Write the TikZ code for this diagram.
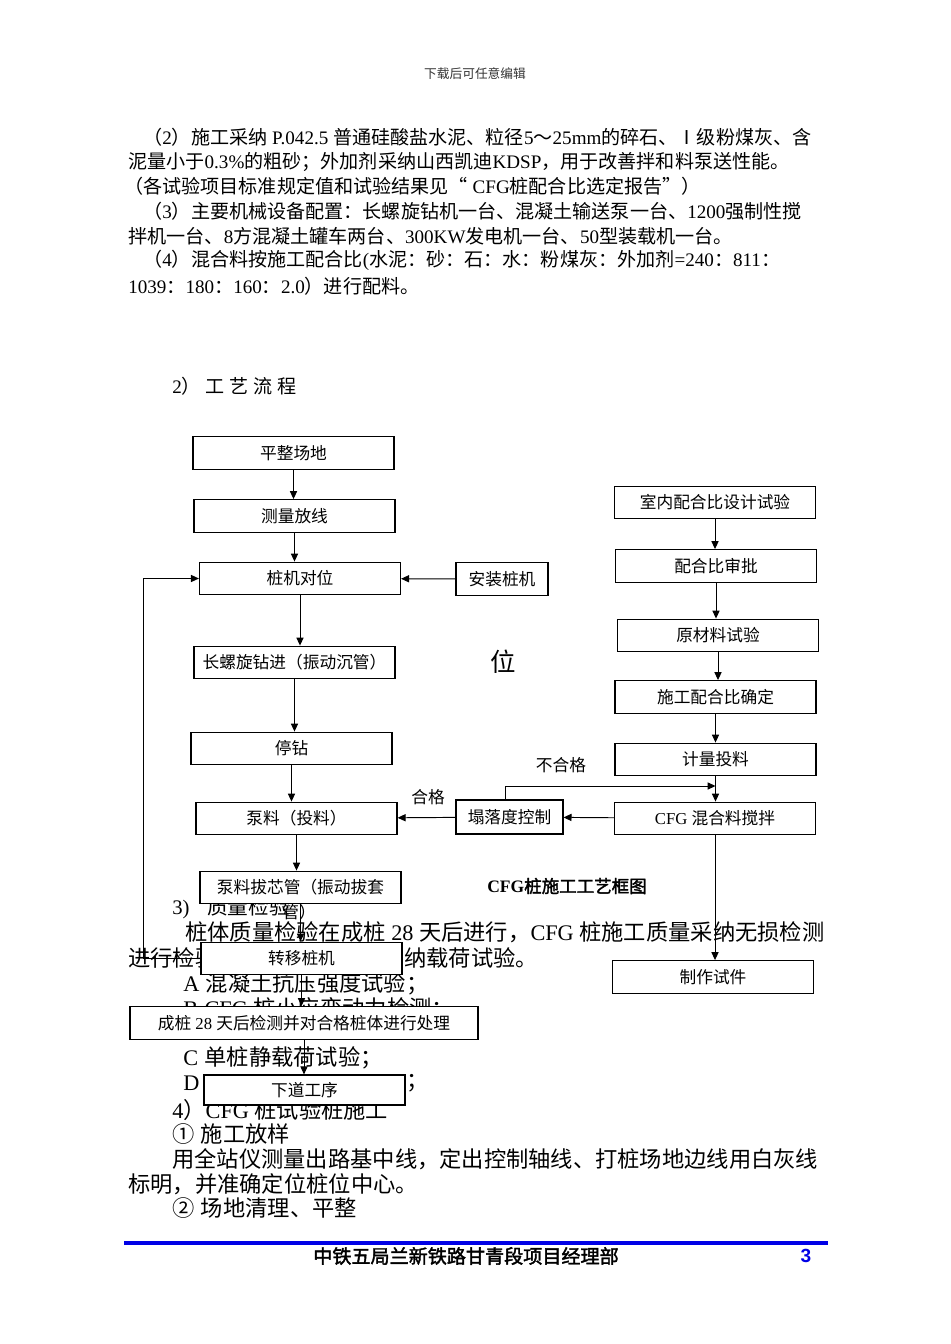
\documentclass[tikz,border=0pt]{standalone}
\usepackage{fontspec}
\setmainfont{Liberation Serif}
\setsansfont{Liberation Sans}
\newfontfamily\cjkfont{Noto Sans CJK SC}[BoldFont=Noto Sans CJK SC,BoldFeatures={FakeBold=2}]
\usetikzlibrary{arrows.meta}
% switch to the CJK font for CJK characters
\XeTeXinterchartokenstate=1
\newXeTeXintercharclass\cjkcls
\newcount\cjkcnt
\cjkcnt="2E80 \loop\XeTeXcharclass\cjkcnt=\cjkcls\advance\cjkcnt by 1 \ifnum\cjkcnt<"A000 \repeat
\cjkcnt="FF00 \loop\XeTeXcharclass\cjkcnt=\cjkcls\advance\cjkcnt by 1 \ifnum\cjkcnt<"FFF0 \repeat
\cjkcnt="2150 \loop\XeTeXcharclass\cjkcnt=\cjkcls\advance\cjkcnt by 1 \ifnum\cjkcnt<"2190 \repeat
\cjkcnt="2460 \loop\XeTeXcharclass\cjkcnt=\cjkcls\advance\cjkcnt by 1 \ifnum\cjkcnt<"2500 \repeat
\XeTeXcharclass"201C=\cjkcls
\XeTeXcharclass"201D=\cjkcls
\XeTeXinterchartoks 0 \cjkcls = {\cjkfont}
\XeTeXinterchartoks 4095 \cjkcls = {\cjkfont}
\XeTeXinterchartoks \cjkcls 0 = {\rmfamily}
\XeTeXinterchartoks \cjkcls 4095 = {\rmfamily}
\definecolor{footblue}{RGB}{0,0,230}
\begin{document}
\begin{tikzpicture}[x=0.0221cm,y=-0.0221cm,
  box/.style={draw,fill=white,line width=0.8pt,inner sep=0pt,minimum width=4.44cm,
    minimum height=0.72cm,font=\fontsize{10.5}{12}\selectfont},
  arr/.style={line width=0.6pt,-{Triangle[length=5pt,width=4.5pt]}},
  body/.style={anchor=west,inner sep=0pt,font=\fontsize{12}{14}\selectfont},
  big/.style={anchor=west,inner sep=0pt,font=\fontsize{14}{16}\selectfont},
  lab/.style={inner sep=0pt,font=\fontsize{10.5}{12}\selectfont}]

\fill[white] (0,0) rectangle (950,1344);
\useasboundingbox (0,0) rectangle (950,1344);

   \node[inner sep=0pt,font=\fontsize{8}{9}\selectfont,text=black!80] (hd) at (475,74) {下载后可任意编辑};

   % text above the chart
   \node[body] (t1) at (143,137) {（2）施工采纳 P.042.5 普通硅酸盐水泥、粒径5～25mm的碎石、Ⅰ级粉煤灰、含};
   \node[body] (t2) at (128,162) {泥量小于0.3\%的粗砂；外加剂采纳山西凯迪KDSP，用于改善拌和料泵送性能。};
   \node[body] (t3) at (124,186) {（各试验项目标准规定值和试验结果见“ CFG桩配合比选定报告”）};
   \node[body] (t4) at (143,211) {（3）主要机械设备配置：长螺旋钻机一台、混凝土输送泵一台、1200强制性搅};
   \node[body] (t5) at (128,236) {拌机一台、8方混凝土罐车两台、300KW发电机一台、50型装载机一台。};
   \node[body] (t6) at (143,260) {（4）混合料按施工配合比(水泥：砂：石：水：粉煤灰：外加剂=240：811：};
   \node[body] (t7) at (128,286) {1039：180：160：2.0）进行配料。};
   \node[body] (h2) at (172,386) {2）\hspace{3pt}工\hspace{3pt}艺\hspace{3pt}流\hspace{3pt}程};

   % text under the chart
   \node[big,font=\fontsize{13}{15}\selectfont] (q0) at (172,908) {3)\hspace{11pt}质量检验};
   \node[big] (q1) at (185,932) {桩体质量检验在成桩 28 天后进行，CFG 桩施工质量采纳无损检测};
   \node[big] (q2) at (128,958) {进行检验};
   \node[big] (q3) at (404,958) {纳载荷试验。};
   \node[big] (qa) at (183,984) {A\hspace{4pt}混凝土抗压强度试验；};
   \node[big] (qb) at (183,1009) {B\hspace{4pt}CFG 桩小应变动力检测；};
   \node[big] (qc) at (183,1058) {C\hspace{4pt}单桩静载荷试验；};
   \node[big] (qd) at (183,1083) {D};
   \node[big] (qe) at (406,1083) {；};
   \node[big] (q4) at (172,1110) {4）CFG 桩试验桩施工};
   \node[big] (q5) at (172,1134) {①\hspace{4pt}施工放样};
   \node[big] (q6) at (172,1159) {用全站仪测量出路基中线，定出控制轴线、打桩场地边线用白灰线};
   \node[big] (q7) at (128,1184) {标明，并准确定位桩位中心。};
   \node[big] (q8) at (172,1208) {②\hspace{4pt}场地清理、平整};

   % left column
   \node[box] at (293.5,453)  (A) {平整场地};
   \node[box] at (294.5,516)  (B) {测量放线};
   \node[box] at (300,578.5)  (C) {桩机对位};
   \node[box,minimum width=2.03cm] at (502,579)  (K) {安装桩机};
   \node[box] at (294.5,662.5)  (D) {长螺旋钻进（振动沉管）};
   \node[box] at (291.5,748.5)  (E) {停钻};
   \node[box] at (296.5,818.5)  (F) {泵料（投料）};
   \node[box] at (300.5,887.5)  (G) {泵料拔芯管（振动拔套};
   \node[box] at (301.5,958.5)  (H) {转移桩机};
   \node[box,minimum width=7.69cm] at (304,1023)  (I) {成桩 28 天后检测并对合格桩体进行处理};
   \node[box,minimum height=0.66cm] at (304.5,1090)  (J) {下道工序};
   \node[lab] at (299,912)  (G2) {管）};

   % right column
   \node[box] at (715,502.5)  (P) {室内配合比设计试验};
   \node[box] at (716,566)  (Q) {配合比审批};
   \node[box] at (718,635.5)  (R) {原材料试验};
   \node[box] at (715.5,697)  (S) {施工配合比确定};
   \node[box] at (715.5,759.5)  (T) {计量投料};
   \node[box] at (715,818.5)  (U) {CFG 混合料搅拌};
   \node[box,minimum width=2.36cm,minimum height=0.75cm] at (509.5,817)  (V) {塌落度控制};
   \node[box] at (713,977)  (W) {制作试件};

   \node[lab,font=\fontsize{16}{18}\selectfont] at (503,662)  (wei) {位};
   \node[lab,font=\fontsize{11}{13}\selectfont\bfseries] at (567,886)  (ttl) {CFG桩施工工艺框图};
   \node[lab] at (428,797)  (ok) {合格};
   \node[lab] at (561,765)  (nok) {不合格};

   \draw[arr] (A.south) -- (A.south |- B.north);
   \draw[arr] (B.south) -- (B.south |- C.north);
   \draw[arr] (C.south) -- (C.south |- D.north);
   \draw[arr] (D.south) -- (D.south |- E.north);
   \draw[arr] (E.south) -- (E.south |- F.north);
   \draw[arr] (F.south) -- (F.south |- G.north);
   \draw[arr] (G.south) -- (G.south |- H.north);
   \draw[arr] (H.south) -- (H.south |- I.north);
   \draw[arr] (I.south) -- (I.south |- J.north);
   \draw[arr] (K) -- (C);

   \coordinate (fb) at (143,958.5);
   \draw[arr] (H.west) -- (fb) |- (C.west);

   \draw[arr] (P.south) -- (P.south |- Q.north);
   \draw[arr] (Q.south) -- (Q.south |- R.north);
   \draw[arr] (R.south) -- (R.south |- S.north);
   \draw[arr] (S.south) -- (S.south |- T.north);
   \draw[arr] (T.south) -- (T.south |- U.north);
   \draw[arr] (U.south) -- (U.south |- W.north);
   \draw[arr] (U) -- (V);
   \draw[arr] (V) -- (F);

   \coordinate (nb) at (505,786);
   \draw[arr] (V.north -| nb) -- (nb) -- (nb -| T.south);

   % footer
   \draw[footblue,line width=2pt] (124,1243) -- (828,1243);
   \node[lab,font=\fontsize{12}{14}\selectfont\bfseries] at (466,1256)  (ft) {中铁五局兰新铁路甘青段项目经理部};
   \node[lab,font=\fontsize{12}{14}\selectfont\sffamily\bfseries,text=footblue] at (806,1256)  (pg) {3};

\end{tikzpicture}
\end{document}
